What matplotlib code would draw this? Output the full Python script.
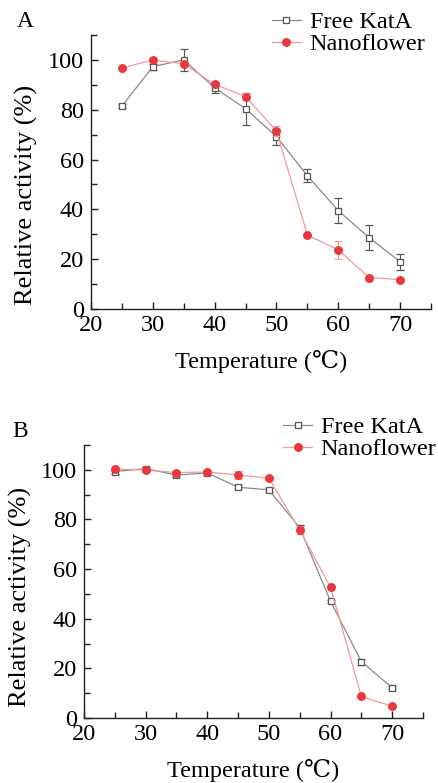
import numpy as np
import matplotlib.pyplot as plt
from matplotlib.ticker import MultipleLocator

plt.rcParams['font.family'] = ['Liberation Serif', 'DejaVu Serif']

temp = [25, 30, 35, 40, 45, 50, 55, 60, 65, 70]

# Panel A
free_a = [81.5, 97.3, 100.0, 88.8, 80.4, 69.2, 53.5, 39.5, 28.6, 19.0]
free_a_err = [0.8, 1.2, 4.3, 2.0, 6.4, 3.2, 2.6, 5.0, 5.0, 3.2]
nano_a = [96.7, 100.0, 98.4, 90.2, 85.3, 71.4, 29.7, 23.7, 12.6, 11.8]
nano_a_err = [0.5, 0.5, 1.0, 1.0, 1.5, 2.0, 0.6, 3.5, 1.2, 0.5]

# Panel B
free_b = [99.3, 100.5, 97.9, 98.7, 93.0, 91.9, 76.7, 47.0, 22.7, 12.2]
free_b_err = [0.8, 0.8, 0.8, 0.8, 0.8, 0.8, 1.2, 0.6, 1.2, 0.5]
nano_b = [100.3, 99.9, 98.9, 99.1, 97.9, 96.6, 75.7, 52.7, 8.7, 4.7]
nano_b_err = [0.5, 0.5, 0.6, 0.6, 1.5, 0.6, 1.5, 0.5, 0.5, 0.5]

fig = plt.figure(figsize=(4.39, 7.83), dpi=100)
axA = fig.add_axes([0.2073, 0.6054, 0.7745, 0.3499])
axB = fig.add_axes([0.1913, 0.0830, 0.7723, 0.3487])

gray_line = '#8a8a8a'
gray_mark = '#555555'
red_line = '#f29a9a'
red_mark = '#e8383d'


def draw(ax, free, free_err, nano, nano_err, letter, letter_x, leg_pos, ylab_pos):
    ax.errorbar(temp, free, yerr=free_err, color=gray_line, lw=0.9,
                marker='s', ms=4.2, mfc='white', mec=gray_mark, mew=0.9,
                ecolor=gray_mark, elinewidth=0.8, capsize=3, capthick=0.8,
                label='Free KatA', zorder=2)
    ax.errorbar(temp, nano, yerr=nano_err, color=red_line, lw=0.9,
                marker='o', ms=5.4, mfc=red_mark, mec=red_mark,
                ecolor=red_line, elinewidth=0.8, capsize=3, capthick=0.8,
                label='Nanoflower', zorder=3)
    ax.set_xlim(20, 75)
    ax.set_ylim(0, 110)
    ax.xaxis.set_minor_locator(MultipleLocator(5))
    ax.yaxis.set_minor_locator(MultipleLocator(10))
    ax.set_xticks([20, 30, 40, 50, 60, 70])
    ax.set_yticks([0, 20, 40, 60, 80, 100])
    for s in ['top', 'right']:
        ax.spines[s].set_visible(False)
    for s in ['left', 'bottom']:
        ax.spines[s].set_color('#222222')
        ax.spines[s].set_linewidth(1.0)
    ax.tick_params(which='major', direction='in', length=5, width=1.0,
                   color='#222222', labelsize=17.5)
    ax.tick_params(axis='x', which='major', pad=4)
    ax.tick_params(axis='y', which='major', pad=5)
    ax.tick_params(which='minor', direction='in', length=4, width=1.0,
                   color='#222222')
    ax.set_xlabel('Temperature (℃)', fontsize=17.5)
    ax.set_ylabel('Relative activity (%)', fontsize=19)
    ax.xaxis.set_label_coords(0.5, -0.15)
    ax.yaxis.set_label_coords(*ylab_pos)
    h, l = ax.get_legend_handles_labels()
    h = [x[0] for x in h]
    ax.legend(h, l, loc='upper left', bbox_to_anchor=leg_pos, frameon=False,
              fontsize=17.5, handlelength=1.2, handletextpad=0.35,
              labelspacing=0.0, borderaxespad=0, borderpad=0)
    ax.text(letter_x, 1.029, letter, transform=ax.transAxes, fontsize=17,
            va='baseline', ha='left')


draw(axA, free_a, free_a_err, nano_a, nano_a_err, 'A', -0.218, (0.532, 1.087), (-0.155, 0.415))
draw(axB, free_b, free_b_err, nano_b, nano_b_err, 'B', -0.212, (0.587, 1.105), (-0.153, 0.443))

fig.savefig('out.png', dpi=100)
